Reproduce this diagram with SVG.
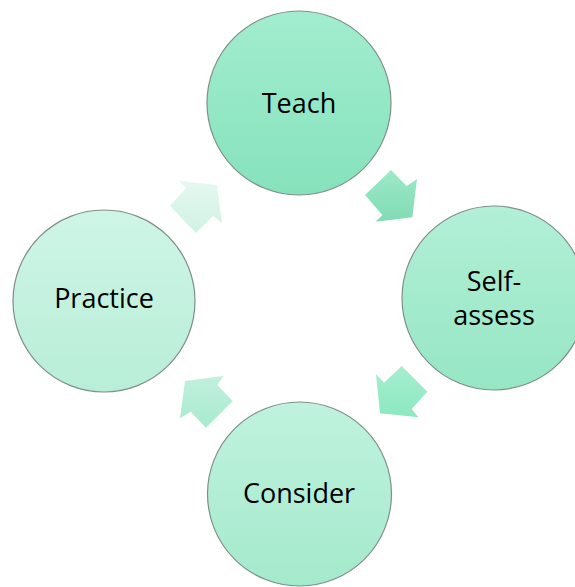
<svg xmlns="http://www.w3.org/2000/svg" width="575" height="587" viewBox="0 0 575 587">
<defs>
<linearGradient id="gTeach" x1="0" y1="0" x2="0" y2="1"><stop offset="0" stop-color="#a2edcf"/><stop offset="1" stop-color="#86e2bc"/></linearGradient>
<linearGradient id="gSelf" x1="0" y1="0" x2="0" y2="1"><stop offset="0" stop-color="#b2f0d7"/><stop offset="1" stop-color="#96e6c4"/></linearGradient>
<linearGradient id="gCons" x1="0" y1="0" x2="0" y2="1"><stop offset="0" stop-color="#c0f2de"/><stop offset="1" stop-color="#a4eacc"/></linearGradient>
<linearGradient id="gPrac" x1="0" y1="0" x2="0" y2="1"><stop offset="0" stop-color="#cff5e6"/><stop offset="1" stop-color="#b8eed7"/></linearGradient>
<linearGradient id="a1" x1="0" y1="0" x2="0" y2="1"><stop offset="0" stop-color="#e5f8f0"/><stop offset="1" stop-color="#d0f2e3"/></linearGradient>
<linearGradient id="a2" x1="0" y1="0" x2="0" y2="1"><stop offset="0" stop-color="#9de8c8"/><stop offset="1" stop-color="#80dcb5"/></linearGradient>
<linearGradient id="a3" x1="0" y1="0" x2="0" y2="1"><stop offset="0" stop-color="#a6eed0"/><stop offset="1" stop-color="#8ce8c0"/></linearGradient>
<linearGradient id="a4" x1="0" y1="0" x2="0" y2="1"><stop offset="0" stop-color="#c2f0dd"/><stop offset="1" stop-color="#a8eacf"/></linearGradient>
</defs>
<style>
.node circle{stroke:#7f8f88;stroke-width:1.2}
.lbl{font-family:"Open Sans","Liberation Sans",sans-serif;font-size:27px;fill:#000;text-anchor:middle}
</style>
<g id="connectors">
<polygon fill="url(#a1)" points="186,188 179,181 217,185 222,223 213,216 196,233 170,206"/>
<polygon fill="url(#a2)" points="391,170 406.7,186 417,179 412.3,217.3 375.7,221.7 382.3,215 365,195"/>
<polygon fill="url(#a3)" points="401.7,366 427.3,391.7 411.7,409 418.3,417.3 380,413.3 376,374 384,382.7"/>
<polygon fill="url(#a4)" points="185,381 223.3,376 217.3,385 232.7,401 206,427.7 190.7,411.7 180,418.3"/>
</g>
<g id="teach" class="node">
<circle cx="299" cy="103" r="92" fill="url(#gTeach)"/>
<text class="lbl" x="299" y="113">Teach</text>
</g>
<g id="self-assess" class="node">
<circle cx="494" cy="298" r="92" fill="url(#gSelf)"/>
<text class="lbl" x="494" y="291">Self-</text>
<text class="lbl" x="494" y="325">assess</text>
</g>
<g id="consider" class="node">
<circle cx="299.5" cy="494" r="92" fill="url(#gCons)"/>
<text class="lbl" x="299" y="503">Consider</text>
</g>
<g id="practice" class="node">
<circle cx="104" cy="301" r="91" fill="url(#gPrac)"/>
<text class="lbl" x="104" y="308">Practice</text>
</g>
</svg>
